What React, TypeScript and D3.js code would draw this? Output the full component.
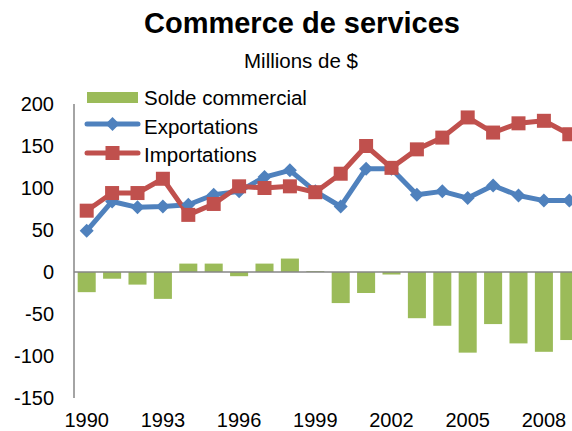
import React from "react";
import * as d3 from "d3";

const years = [1990,1991,1992,1993,1994,1995,1996,1997,1998,1999,2000,2001,2002,2003,2004,2005,2006,2007,2008,2009];
const solde = [-24,-8,-15,-32,10,10,-5,10,16,1,-37,-25,-3,-55,-64,-96,-62,-85,-95,-81];
const exportations = [49,84,77,78,80,92,96,113,121,96,78,123,123,92,96,88,103,91,85,85];
const importations = [73,94,94,111,68,81,102,100,102,95,117,150,124,146,160,184,166,177,180,164];
const yTicks = [200,150,100,50,0,-50,-100,-150];
const xLabels = [1990,1993,1996,1999,2002,2005,2008];

const GREEN = "#9BBB59";
const BLUE = "#4F81BD";
const RED = "#C0504D";
const FONT = "'Liberation Sans', Arial, sans-serif";

export default function App() {
  const W = 572, H = 431;
  const x = d3.scaleBand<number>().domain(years).range([74, 582]).paddingInner(0.29).paddingOuter(0.145);
  const y = d3.scaleLinear().domain([-150, 200]).range([398, 104]);
  const cx = (yr: number) => (x(yr) as number) + x.bandwidth() / 2;
  const line = d3.line<number>().x((_, i) => cx(years[i])).y((d) => y(d));
  const diamond = (px: number, py: number, r: number) => `M${px},${py - r}L${px + r},${py}L${px},${py + r}L${px - r},${py}Z`;

  return (
    <svg width={W} height={H} style={{ position: "absolute", left: 0, top: 0, background: "#fff" }} fontFamily={FONT}>
      <text x={302} y={33} textAnchor="middle" fontSize={29} fontWeight="bold" fill="#000">Commerce de services</text>
      <text x={301} y={68} textAnchor="middle" fontSize={20.5} fill="#000">Millions de $</text>

      {years.map((yr, i) => (
        <rect key={"b" + yr} x={x(yr)} width={x.bandwidth()}
          y={Math.min(y(0), y(solde[i]))} height={Math.abs(y(solde[i]) - y(0))} fill={GREEN} />
      ))}

      <line x1={74} x2={W} y1={y(0)} y2={y(0)} stroke="#868686" strokeWidth={1.5} />
      <line x1={74} x2={74} y1={y(200)} y2={y(-150)} stroke="#868686" strokeWidth={1.5} />

      {yTicks.map((t) => (
        <text key={"yt" + t} x={54} y={y(t) + 7} textAnchor="end" fontSize={20} fill="#000">{t}</text>
      ))}
      {xLabels.map((yr) => (
        <text key={"xl" + yr} x={cx(yr)} y={427} textAnchor="middle" fontSize={20} fill="#000">{yr}</text>
      ))}

      <path d={line(exportations) || ""} fill="none" stroke={BLUE} strokeWidth={5} strokeLinejoin="round" />
      <path d={line(importations) || ""} fill="none" stroke={RED} strokeWidth={5} strokeLinejoin="round" />
      {years.map((yr, i) => (
        <path key={"d" + yr} d={diamond(cx(yr), y(exportations[i]), 7)} fill={BLUE} />
      ))}
      {years.map((yr, i) => (
        <rect key={"s" + yr} x={cx(yr) - 7} y={y(importations[i]) - 7} width={14} height={14} fill={RED} />
      ))}

      <g>
        <rect x={87} y={92} width={51} height={11} fill={GREEN} />
        <text x={144} y={105} fontSize={20.5} fill="#000">Solde commercial</text>
        <line x1={87} x2={138} y1={124} y2={124} stroke={BLUE} strokeWidth={5} strokeLinecap="round" />
        <path d={diamond(112.5, 124, 7)} fill={BLUE} />
        <text x={144} y={134} fontSize={20.5} fill="#000">Exportations</text>
        <line x1={87} x2={138} y1={153} y2={153} stroke={RED} strokeWidth={5} strokeLinecap="round" />
        <rect x={105.5} y={146} width={14} height={14} fill={RED} />
        <text x={144} y={162} fontSize={20.5} fill="#000">Importations</text>
      </g>
    </svg>
  );
}
